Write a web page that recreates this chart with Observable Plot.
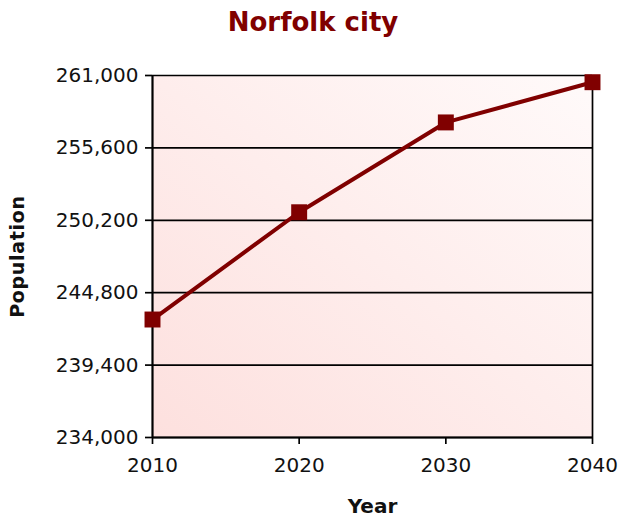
<!DOCTYPE html>
<html>
<head>
<meta charset="utf-8">
<script src="https://cdn.jsdelivr.net/npm/d3@7"></script>
<script src="https://cdn.jsdelivr.net/npm/@observablehq/plot@0.6"></script>
<style>
  html, body { margin: 0; padding: 0; background: #ffffff; }
  #wrap { width: 619px; height: 519px; overflow: hidden; font-family: "DejaVu Sans", Verdana, sans-serif; }
  #title { height: 44px; line-height: 44px; text-align: center; padding-left: 7px; box-sizing: border-box;
           font-size: 26px; font-weight: bold; color: #800000; font-family: "DejaVu Sans", Verdana, sans-serif; }
  svg { display: block; }
  .ylab { letter-spacing: 0.7px; }
</style>
</head>
<body>
<div id="wrap">
  <div id="title">Norfolk city</div>
  <div id="chart"></div>
</div>
<script>
const years = [2010, 2020, 2030, 2040];
const population = [242800, 250800, 257500, 260500];
const yTicks = [234000, 239400, 244800, 250200, 255600, 261000];
const xTicks = [2010, 2020, 2030, 2040];

const data = years.map((y, i) => ({year: y, pop: population[i]}));

const chart = Plot.plot({
  width: 619,
  height: 475,
  marginLeft: 152,
  marginRight: 27,
  marginTop: 31,
  marginBottom: 82,
  style: {fontFamily: "DejaVu Sans, Verdana, sans-serif", fontSize: "20px", color: "#111", background: "transparent", overflow: "visible"},
  x: {domain: [2010, 2040]},
  y: {domain: [234000, 261000]},
  marks: [
    Plot.frame({fill: "url(#bgGrad)", stroke: null}),
    Plot.ruleY(yTicks, {stroke: "#000", strokeWidth: 1.7}),
    Plot.ruleX([2010], {stroke: "#000", strokeWidth: 2.2}),
    Plot.ruleX([2040], {stroke: "#000", strokeWidth: 1.7}),
    Plot.ruleY([234000], {stroke: "#000", strokeWidth: 2.2}),
    Plot.axisY({ticks: yTicks, tickFormat: d3.format(","), tickSize: 7, tickPadding: 7, stroke: "#000", strokeWidth: 1.7, fontSize: 20, label: null}),
    Plot.axisX({ticks: xTicks, tickFormat: d => String(d), tickSize: 7, tickPadding: 13, stroke: "#000", strokeWidth: 1.7, fontSize: 20, label: null}),
    Plot.line(data, {x: "year", y: "pop", stroke: "#800000", strokeWidth: 4}),
    Plot.dot(data, {x: "year", y: "pop", symbol: "square", r: 9, fill: "#800000", stroke: null}),
    Plot.text(["Year"], {frameAnchor: "bottom", dy: 75, fontSize: 20, fontWeight: "bold", fill: "#111"}),
    Plot.text(["Population"], {frameAnchor: "left", textAnchor: "middle", dx: -135, rotate: -90, fontSize: 19, fontWeight: "bold", fill: "#111", className: "ylab"})
  ]
});

d3.select(chart).insert("defs", ":first-child").html(
  '<linearGradient id="bgGrad" x1="0" y1="1" x2="1" y2="0">' +
  '<stop offset="0%" stop-color="#fde0de"/>' +
  '<stop offset="100%" stop-color="#fffafa"/>' +
  '</linearGradient>'
);

document.getElementById("chart").appendChild(chart);
</script>
</body>
</html>
